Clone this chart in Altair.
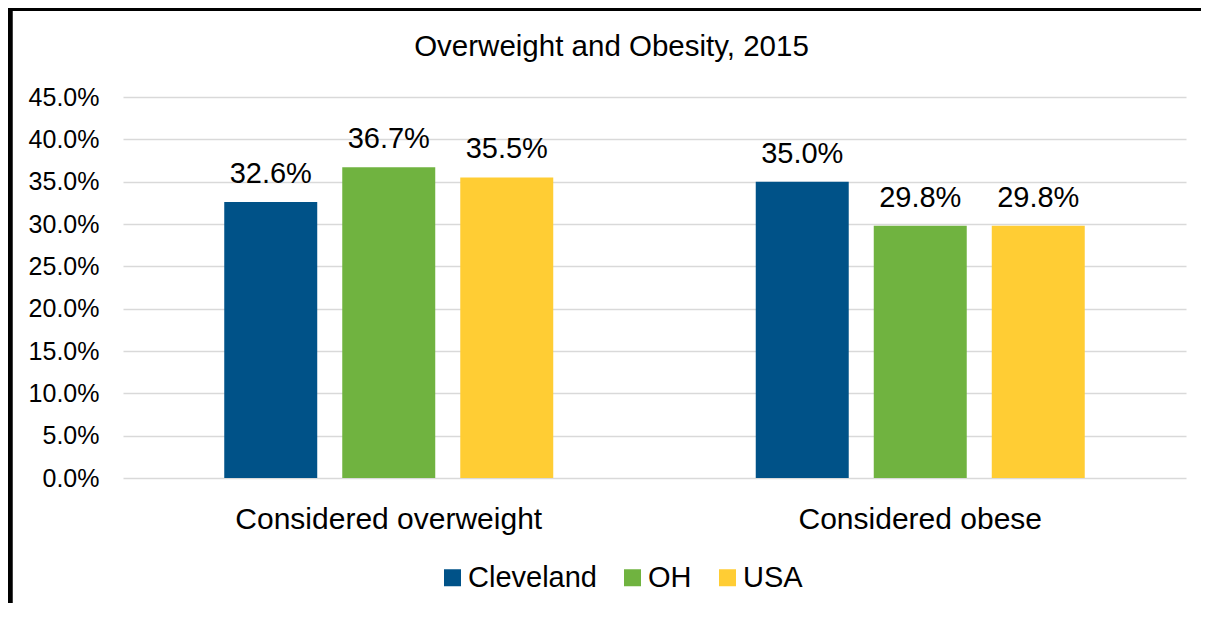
import altair as alt
import pandas as pd

# ---- data ----
categories = ["Considered overweight", "Considered obese"]
series = ["Cleveland", "OH", "USA"]
cleveland = [32.6, 35.0]
oh = [36.7, 29.8]
usa = [35.5, 29.8]
colors = ["#005288", "#70B340", "#FFCD34"]
y_ticks = [0, 5, 10, 15, 20, 25, 30, 35, 40, 45]
title_text = "Overweight and Obesity, 2015"

rows = []
for s, vals in zip(series, [cleveland, oh, usa]):
    for c, v in zip(categories, vals):
        rows.append({"category": c, "series": s, "value": v, "label": f"{v:.1f}%"})
df = pd.DataFrame(rows)

FONT = "Liberation Sans"

base = alt.Chart(df).encode(
    x=alt.X(
        "category:N",
        sort=categories,
        scale=alt.Scale(paddingInner=0, paddingOuter=0),
        axis=alt.Axis(
            title=None, labelAngle=0, labelFontSize=30, labelFont=FONT,
            labelColor="#000000", ticks=False, tickSize=0, domain=False,
            grid=False, labelPadding=50, labelBaseline="alphabetic",
            labelLimit=0,
        ),
    ),
    xOffset=alt.XOffset(
        "series:N", sort=series,
        scale=alt.Scale(paddingInner=0.212, paddingOuter=0.858),
    ),
)

bars = base.mark_bar().encode(
    y=alt.Y(
        "value:Q",
        scale=alt.Scale(domain=[0, 45], nice=False),
        axis=alt.Axis(
            title=None, values=y_ticks,
            labelExpr="format(datum.value, '.1f') + '%'",
            labelFontSize=25, labelFont=FONT, labelColor="#000000",
            ticks=False, tickSize=0, domain=False, labelPadding=24,
            gridColor="#d9d9d9", gridWidth=1.5,
        ),
    ),
    color=alt.Color(
        "series:N", sort=series,
        scale=alt.Scale(domain=series, range=colors),
        legend=alt.Legend(
            title=None, orient="none", legendX=315, legendY=466,
            direction="horizontal", symbolType="square", symbolSize=289,
            symbolStrokeWidth=0, symbolOpacity=1, labelFontSize=29,
            labelFont=FONT, labelColor="#000000", labelOffset=1,
            columnPadding=21, padding=0, labelLimit=0,
        ),
    ),
)

labels = base.mark_text(
    baseline="alphabetic", dy=-19, fontSize=29, font=FONT, color="#000000"
).encode(y="value:Q", text="label:N")

frame_data = alt.Data(values=[{"k": 1}])
left_border = alt.Chart(frame_data).mark_rule(color="#000000", strokeWidth=5.5).encode(
    x=alt.value(-113), y=alt.value(-90), y2=alt.value(520)
)
top_border = alt.Chart(frame_data).mark_rule(color="#000000", strokeWidth=5).encode(
    x=alt.value(-116), x2=alt.value(1090), y=alt.value(-88.5)
)

chart = alt.layer(bars, labels, left_border, top_border).properties(
    width=1063,
    height=381,
    padding={"left": 115, "top": 89, "right": 15, "bottom": 125},
    autosize="none",
    title=alt.TitleParams(
        title_text, fontSize=29.5, font=FONT, fontWeight="normal",
        color="#000000", anchor="middle", frame="group", dx=-43,
        offset=-87, baseline="bottom",
    ),
).configure_view(stroke=None)

chart.save("out.html", embed_options={"renderer": "svg", "actions": False})
